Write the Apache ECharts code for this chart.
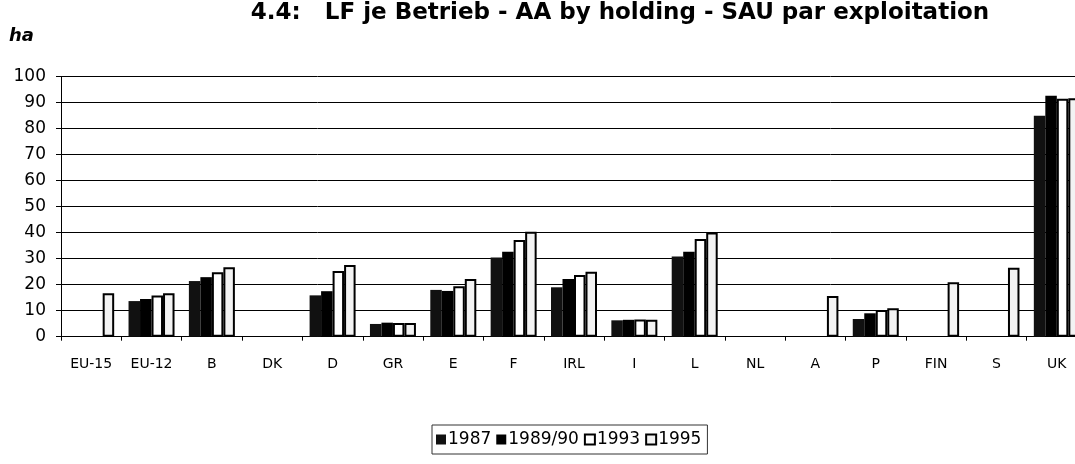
<!DOCTYPE html>
<html>
<head>
<meta charset="utf-8">
<script src="https://cdn.jsdelivr.net/npm/echarts@6/dist/echarts.min.js"></script>
<style>
  html, body { margin: 0; padding: 0; background: #fff; overflow: hidden; }
  /* Diagramm ist rechts abgeschnitten, daher breiter als das Fenster */
  #chart { width: 1100px; height: 464px; }
</style>
</head>
<body>
<div id="chart"></div>
<script>
  // Kategorien (Länder)
  const categories = ['EU-15', 'EU-12', 'B', 'DK', 'D', 'GR', 'E', 'F', 'IRL', 'I', 'L', 'NL', 'A', 'P', 'FIN', 'S', 'UK'];
  const seriesNames = ['1987', '1989/90', '1993', '1995'];
  const yTicks = [0, 10, 20, 30, 40, 50, 60, 70, 80, 90, 100];

  // Werte in ha
  const data1987 = [null, 13.7, 21.4, null, 15.9, 4.9, 18.0, 30.5, 19.0, 6.3, 30.8, null, null, 6.8, null, null, 85.0];
  const data1989 = [null, 14.5, 22.9, null, 17.5, 5.4, 17.6, 32.7, 22.2, 6.5, 32.7, null, null, 9.0, null, null, 92.7];
  const data1993 = [null, 15.8, 24.8, null, 25.3, 5.3, 19.4, 37.2, 23.7, 6.6, 37.6, null, null, 10.3, null, null, 91.5];
  const data1995 = [16.7, 16.7, 26.7, null, 27.6, 5.3, 22.2, 40.4, 25.0, 6.5, 40.1, null, 15.7, 10.9, 20.9, 26.5, 91.7];

  const font = '"DejaVu Sans", sans-serif';

  var chartDom = document.getElementById('chart');
  var myChart = echarts.init(chartDom);

  const barStyle = (fill, border) => ({
    color: fill,
    borderColor: border,
    borderWidth: border ? 2 : 0,
  });

  var option = {
    backgroundColor: '#fff',
    animation: false,
    title: [
      {
        text: '4.4:   LF je Betrieb - AA by holding - SAU par exploitation',
        left: 615,
        textAlign: 'center',
        top: -3,
        textStyle: { fontFamily: font, fontSize: 23, fontWeight: 'bold', color: '#000' },
      },
      {
        text: 'ha',
        left: 4,
        top: 22,
        textStyle: { fontFamily: font, fontSize: 18, fontWeight: 'bold', fontStyle: 'italic', color: '#000' },
      },
    ],
    legend: {
      data: seriesNames,
      left: 432,
      top: 425,
      padding: [6, 6, 6, 4],
      borderColor: '#333',
      borderWidth: 1,
      itemWidth: 10,
      itemHeight: 10,
      itemGap: 5,
      icon: 'rect',
      textStyle: { fontFamily: font, fontSize: 17, color: '#000', padding: [0, 0, 0, -3] },
    },
    grid: {
      left: 61,
      top: 76.7,
      width: 1026,
      height: 260,
    },
    xAxis: {
      type: 'category',
      data: categories,
      axisLine: { show: true, lineStyle: { color: '#000', width: 1 } },
      axisTick: { show: true, length: 4, lineStyle: { color: '#000' } },
      axisLabel: { fontFamily: font, fontSize: 14, color: '#000', margin: 21, interval: 0 },
      splitLine: { show: false },
    },
    yAxis: {
      type: 'value',
      min: yTicks[0],
      max: yTicks[yTicks.length - 1],
      interval: 10,
      axisLine: { show: true, lineStyle: { color: '#000', width: 1 } },
      axisTick: { show: true, length: 5, lineStyle: { color: '#000' } },
      axisLabel: { fontFamily: font, fontSize: 17, color: '#000', margin: 15 },
      splitLine: { show: true, lineStyle: { color: '#000', width: 1 } },
    },
    series: [
      {
        name: seriesNames[0],
        type: 'bar',
        data: data1987,
        barWidth: 11.5,
        barGap: '0%',
        itemStyle: barStyle('#111111', null),
      },
      {
        name: seriesNames[1],
        type: 'bar',
        data: data1989,
        barWidth: 11.5,
        barGap: '0%',
        itemStyle: barStyle('#000000', null),
      },
      {
        name: seriesNames[2],
        type: 'bar',
        data: data1993,
        barWidth: 11.5,
        barGap: '0%',
        itemStyle: barStyle('#ffffff', '#000'),
      },
      {
        name: seriesNames[3],
        type: 'bar',
        data: data1995,
        barWidth: 11.5,
        barGap: '0%',
        itemStyle: barStyle('#f3f3f3', '#000'),
      },
    ],
  };
  option && myChart.setOption(option);
</script>
</body>
</html>
